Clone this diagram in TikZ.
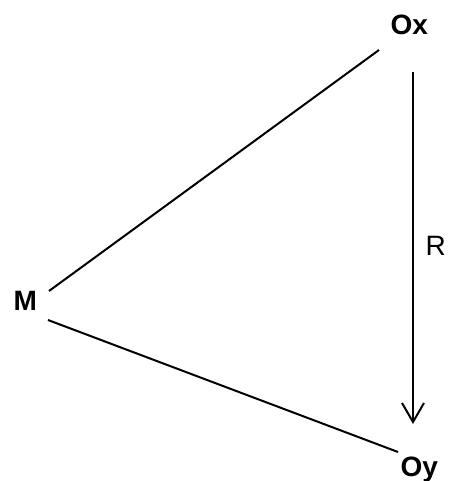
\documentclass[tikz,border=0pt]{standalone}
\usepackage{fontspec}
\setmainfont{Liberation Sans}
\usetikzlibrary{arrows.meta}
\begin{document}
\begin{tikzpicture}[x=1pt,y=-1pt,
  lbl/.style={inner sep=0pt,anchor=base west,font=\fontsize{28}{32}\selectfont\bfseries},
  rlbl/.style={inner sep=0pt,anchor=base west,font=\fontsize{28}{32}\selectfont},
  edge/.style={line width=2pt,black}]
\useasboundingbox (0,0) rectangle (449,481);
\node[lbl] (Ox) at (390.5,35) {Ox};
\node[lbl] (Oy) at (400.5,476.5) {Oy};
\node[lbl] (M) at (13.5,310) {M};
\node[rlbl] (R) at (425.5,255) {R};
\draw[edge] ([shift={(35.5,-19)}]M.base west) -- ([shift={(-11.5,15)}]Ox.base west);
\draw[edge] ([shift={(34.5,10)}]M.base west) -- ([shift={(-2.5,-24.5)}]Oy.base west);
\draw[edge,-{Straight Barb[length=19pt,width=22pt]}] ([shift={(22.5,37)}]Ox.base west) -- ([shift={(12.5,-52.5)}]Oy.base west);
\end{tikzpicture}
\end{document}
